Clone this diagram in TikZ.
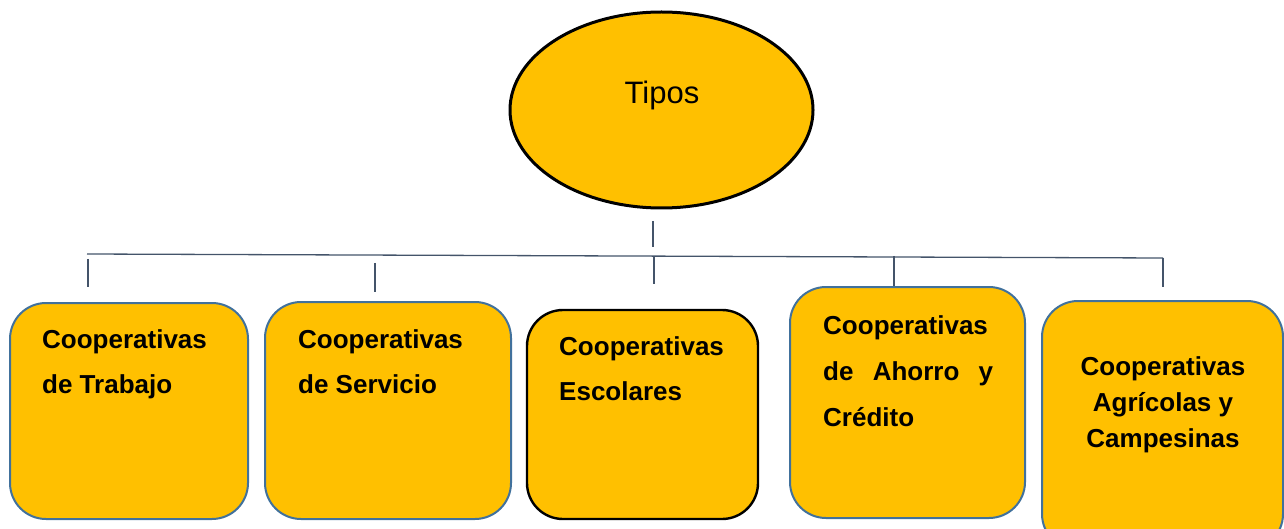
\documentclass[tikz,border=0pt]{standalone}
\usepackage{fontspec}
\setmainfont{Liberation Sans}
\usetikzlibrary{shapes.geometric}
\definecolor{gold}{HTML}{FFC000}
\definecolor{boxblue}{HTML}{41719C}
\definecolor{slate}{HTML}{44546A}
\tikzset{
  box/.style={draw=boxblue, line width=2pt, fill=gold, rounded corners=36pt},
  boxk/.style={draw=black, line width=2.4pt, fill=gold, rounded corners=36pt},
  conn/.style={draw=slate, line width=1.3pt},
  lbl/.style={inner sep=0pt, font=\fontsize{26}{30}\selectfont\bfseries},
}
\begin{document}
\begin{tikzpicture}[x=1pt,y=-1pt]
\useasboundingbox (0,0) rectangle (1284,529);
% top ellipse
\node[ellipse, draw=black, line width=3pt, fill=gold, minimum width=303pt, minimum height=196pt, inner sep=0pt] (tipos) at (661.5,110) {};
\node[inner sep=0pt, anchor=base, font=\fontsize{31}{36}\selectfont] (tiposlbl) at (662,104) {Tipos};
% connectors
\coordinate (trT) at (653,221);
\coordinate (trB) at (653,247);
\coordinate (busL) at (87,254);
\coordinate (busR) at (1163,258);
\coordinate (t1a) at (88,259);   \coordinate (t1b) at (88,287);
\coordinate (t2a) at (375,263);  \coordinate (t2b) at (375,292);
\coordinate (t3a) at (654,257);  \coordinate (t3b) at (654,284);
\coordinate (t4a) at (894,256);  \coordinate (t4b) at (894,287);
\coordinate (t5a) at (1163,258); \coordinate (t5b) at (1163,287);
\draw[conn] (trT) -- (trB);
\draw[conn] (busL) -- (busR);
\draw[conn] (t1a) -- (t1b);
\draw[conn] (t2a) -- (t2b);
\draw[conn] (t3a) -- (t3b);
\draw[conn] (t4a) -- (t4b);
\draw[conn] (t5a) -- (t5b);
% boxes
\draw[box]  (10,303) rectangle (248,519);
\draw[box]  (265,302) rectangle (511,519);
\draw[boxk] (527,310) rectangle (758,519);
\draw[box]  (790,287) rectangle (1025,518);
\draw[box]  (1042,301) rectangle (1283,550);
% texts
\node[lbl, anchor=base west] (b1l1) at (42,348) {Cooperativas};
\node[lbl, anchor=base west] (b1l2) at (42,393) {de Trabajo};
\node[lbl, anchor=base west] (b2l1) at (298,348) {Cooperativas};
\node[lbl, anchor=base west] (b2l2) at (298,393) {de Servicio};
\node[lbl, anchor=base west] (b3l1) at (559,355) {Cooperativas};
\node[lbl, anchor=base west] (b3l2) at (559,400) {Escolares};
\node[lbl, anchor=base west] (b4l1) at (823,334) {Cooperativas};
\node[lbl, anchor=base west] (b4l2) at (823,380) {\makebox[170pt][s]{de\hfill Ahorro\hfill y}};
\node[lbl, anchor=base west] (b4l3) at (823,426) {Crédito};
\node[lbl, anchor=base] (b5l1) at (1163,375) {Cooperativas};
\node[lbl, anchor=base] (b5l2) at (1163,411) {Agrícolas y};
\node[lbl, anchor=base] (b5l3) at (1163,447) {Campesinas};
\end{tikzpicture}
\end{document}
